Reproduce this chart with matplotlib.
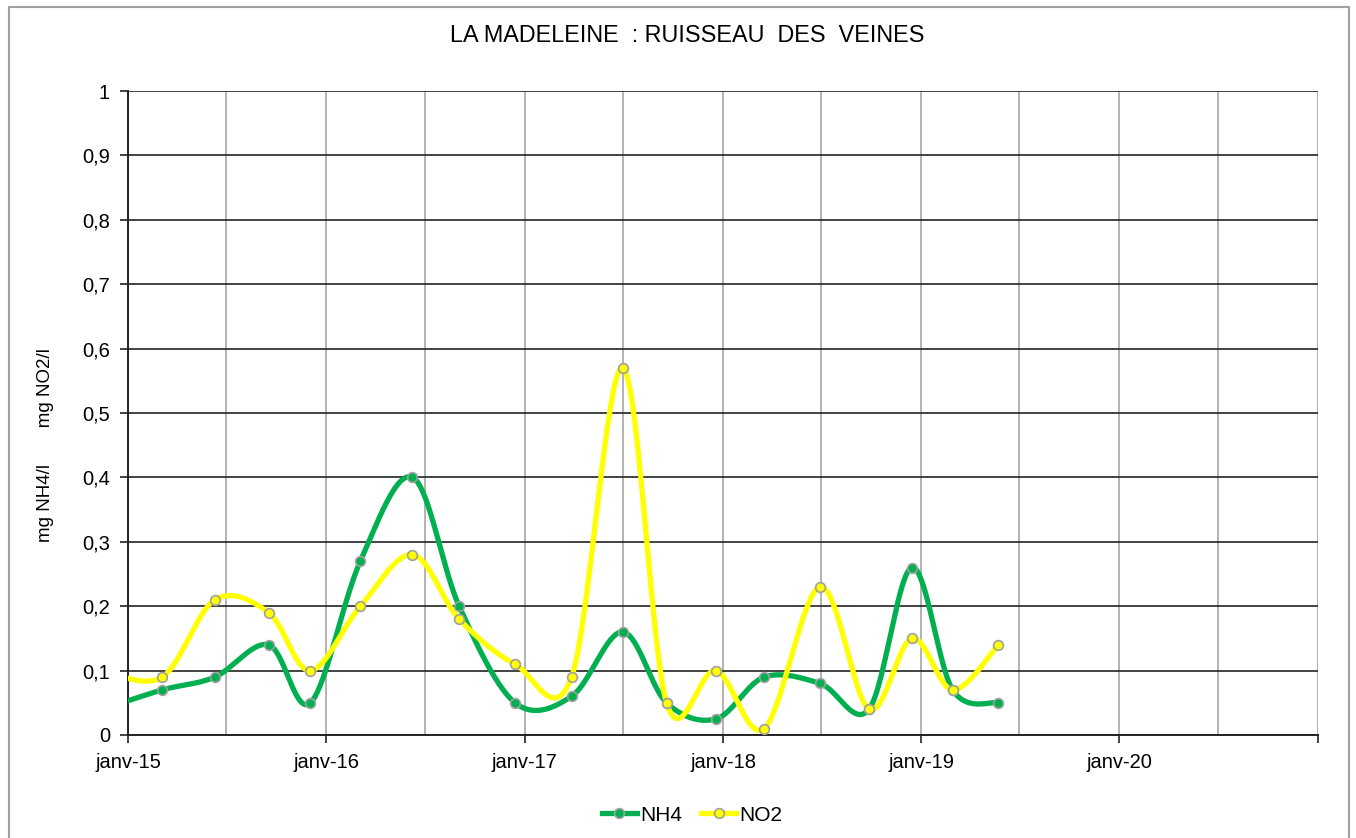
import numpy as np
import pandas as pd
import matplotlib
matplotlib.use("Agg")
import matplotlib.pyplot as plt
import matplotlib.dates as mdates
from matplotlib.lines import Line2D

plt.rcParams['font.family'] = ['Liberation Sans', 'DejaVu Sans']

# sampling dates (first one lies before the visible range)
dates = ["2014-11-15", "2015-03-05", "2015-06-10", "2015-09-17", "2015-12-03",
         "2016-03-04", "2016-06-08", "2016-09-02", "2016-12-14", "2017-03-28",
         "2017-06-30", "2017-09-19", "2017-12-19", "2018-03-18", "2018-06-29",
         "2018-09-27", "2018-12-15", "2019-02-28", "2019-05-23"]
nh4 = [0.04, 0.07, 0.09, 0.14, 0.05, 0.27, 0.40, 0.20, 0.05, 0.06,
       0.16, 0.05, 0.025, 0.09, 0.08, 0.04, 0.26, 0.07, 0.05]
no2 = [0.10, 0.09, 0.21, 0.19, 0.10, 0.20, 0.28, 0.18, 0.11, 0.09,
       0.57, 0.05, 0.10, 0.01, 0.23, 0.04, 0.15, 0.07, 0.14]

title = "LA MADELEINE  : RUISSEAU  DES  VEINES"
ylabel = "mg NH4/l       mg NO2/l"
green = "#00b050"
yellow = "#ffff00"


def smooth(x, y, n=40):
    # Excel-like smoothed line: Catmull-Rom segments as cubic Bezier
    p = np.column_stack([x, y])
    p = np.vstack([p[0], p, p[-1]])
    out = []
    t = np.linspace(0, 1, n)[:, None]
    for i in range(1, len(p) - 2):
        p0, p1, p2, p3 = p[i - 1], p[i], p[i + 1], p[i + 2]
        b1 = p1 + (p2 - p0) / 6
        b2 = p2 - (p3 - p1) / 6
        seg = ((1 - t) ** 3) * p1 + 3 * ((1 - t) ** 2) * t * b1 + 3 * (1 - t) * t ** 2 * b2 + t ** 3 * p2
        out.append(seg)
    out = np.vstack(out)
    return out[:, 0], out[:, 1]


xd = mdates.date2num(pd.to_datetime(dates))

fig = plt.figure(figsize=(13.56, 8.38), dpi=100)
ax = fig.add_axes([128 / 1356, 1 - 735 / 838, 1190 / 1356, 644 / 838])

for vals, col in [(nh4, green), (no2, yellow)]:
    sx, sy = smooth(xd, np.array(vals))
    ax.plot(sx, sy, color=col, lw=3.8, solid_capstyle='round', zorder=3)
    ax.plot(xd, vals, ls='none', marker='o', ms=7, mfc=col, mec='#a0a0a0', mew=1.2, zorder=4)

ax.set_xlim(mdates.date2num(pd.Timestamp("2015-01-01")), mdates.date2num(pd.Timestamp("2021-01-01")))
ax.set_ylim(0, 1)

ax.xaxis.set_minor_locator(mdates.MonthLocator(bymonth=[1, 7]))
years = pd.date_range("2015-01-01", "2021-01-01", freq="YS")
ax.set_xticks(mdates.date2num(years))
ax.set_xticklabels([f"janv-{d.year % 100:02d}" if d.year < 2021 else "" for d in years])
ax.set_yticks(np.arange(0, 1.01, 0.1))
ax.set_yticklabels(["0"] + [f"{v:.1f}".replace(".", ",") for v in np.arange(0.1, 0.95, 0.1)] + ["1"])

ax.grid(True, axis='x', which='both', color='#a6a6a6', lw=1.2)
ax.grid(True, axis='y', color='#222222', lw=1.2)
ax.set_axisbelow(True)
for s in ['top', 'right']:
    ax.spines[s].set_visible(False)
for s in ['left', 'bottom']:
    ax.spines[s].set_color('#222222')
    ax.spines[s].set_linewidth(1.4)
ax.tick_params(axis='both', which='major', length=6, width=1.2, color='#222222', labelsize=14.5, pad=7)
ax.tick_params(axis='x', which='minor', length=0)

fig.text(687 / 1356, 1 - 35 / 838, title, ha='center', va='center', fontsize=16.8)
fig.text(46 / 1356, 1 - 445 / 838, ylabel, rotation=90, ha='center', va='center', fontsize=13.5)

handles = [Line2D([], [], color=green, lw=3.8, marker='o', ms=7, mfc=green, mec='#a0a0a0', mew=1.2),
           Line2D([], [], color=yellow, lw=3.8, marker='o', ms=7, mfc=yellow, mec='#a0a0a0', mew=1.2)]
fig.legend(handles, ["NH4", "NO2"], loc='center', bbox_to_anchor=(692 / 1356, 1 - 815 / 838),
           ncol=2, frameon=False, fontsize=15, handlelength=1.7, handletextpad=0.15, columnspacing=0.9)

# outer chart border
fig.add_artist(Line2D([9 / 1356, 9 / 1356, 1349 / 1356, 1349 / 1356], [0, 1 - 7 / 838, 1 - 7 / 838, 0],
                      transform=fig.transFigure, color='#a0a0a0', lw=1.5))

fig.savefig("out.png", dpi=100)
